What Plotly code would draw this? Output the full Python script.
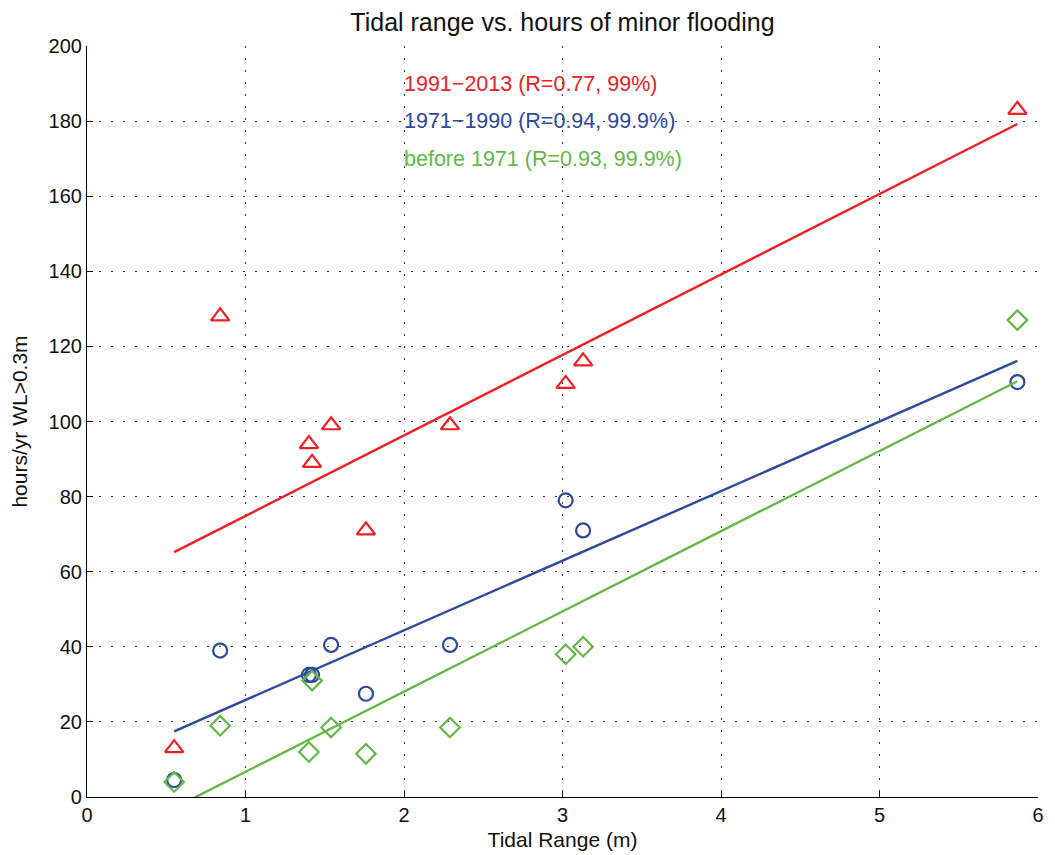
import numpy as np
import plotly.graph_objects as go

# tidal range of each station (m)
tidal_range = [0.55, 0.84, 1.40, 1.42, 1.54, 1.76, 2.29, 3.02, 3.13, 5.87]

# hours/yr with water level > 0.3 m, per period
hours_1991_2013 = [13, 128, 94, 89, 99, 71, 99, 110, 116, 183]
hours_1971_1990 = [4.5, 39, 32.5, 32.5, 40.5, 27.5, 40.5, 79, 71, 110.5]
hours_before_1971 = [4, 19, 12, 31, 18.5, 11.5, 18.5, 38, 40, 127]

labels = ["1991\u22122013 (R=0.77, 99%)",
          "1971\u22121990 (R=0.94, 99.9%)",
          "before 1971 (R=0.93, 99.9%)"]
label_y = [190, 180, 170]

x_ticks = [0, 1, 2, 3, 4, 5, 6]
y_ticks = list(range(0, 201, 20))

series = [
    (hours_1991_2013, "#ED2024", "triangle-up-open", 16),
    (hours_1971_1990, "#2D4A9C", "circle-open", 14),
    (hours_before_1971, "#64B846", "diamond-open", 15),
]

fig = go.Figure()
x = np.array(tidal_range)
for (vals, col, sym, sz), lab, ly in zip(series, labels, label_y):
    fig.add_trace(go.Scatter(
        x=x, y=vals, mode="markers",
        marker=dict(symbol=sym, size=sz, color=col, line=dict(width=2.2, color=col)),
        showlegend=False, cliponaxis=False))
    # least squares fit line over the data range
    k, b = np.polyfit(x, vals, 1)
    xf = np.array([x.min(), x.max()])
    fig.add_trace(go.Scatter(
        x=xf, y=k * xf + b, mode="lines",
        line=dict(color=col, width=2.4), showlegend=False))
    fig.add_annotation(x=2, y=ly, text=lab, showarrow=False,
                       xanchor="left", yanchor="middle", xshift=-2,
                       font=dict(color=col, size=21.5))

axis_common = dict(
    showgrid=True, gridcolor="#333333", griddash="1.5px,10.5px", gridwidth=1,
    zeroline=False, ticks="inside", ticklen=6, tickcolor="black",
    showline=True, linecolor="black", linewidth=1.2, mirror=False,
    tickfont=dict(size=20, color="#111111"), automargin=False,
)

# the page puts the figure 8px in from the top-left corner
fig.update_layout(
    width=1047, height=847,
    paper_bgcolor="white", plot_bgcolor="white",
    font=dict(family="Liberation Sans, Arial, sans-serif", color="#111111"),
    title=dict(text="Tidal range vs. hours of minor flooding",
               x=0.5, xanchor="center", xref="paper",
               y=1 - 14 / 847, yanchor="middle",
               font=dict(size=25, color="#111111")),
    margin=dict(l=79, r=17, t=38, b=58),
    xaxis=dict(range=[0, 6], tickvals=x_ticks, **axis_common,
               title=dict(text="Tidal Range (m)", font=dict(size=21), standoff=7)),
    yaxis=dict(range=[0, 200], tickvals=y_ticks, **axis_common,
               title=dict(text="hours/yr WL>0.3m", font=dict(size=21), standoff=20)),
)

fig.write_html("out.html")
